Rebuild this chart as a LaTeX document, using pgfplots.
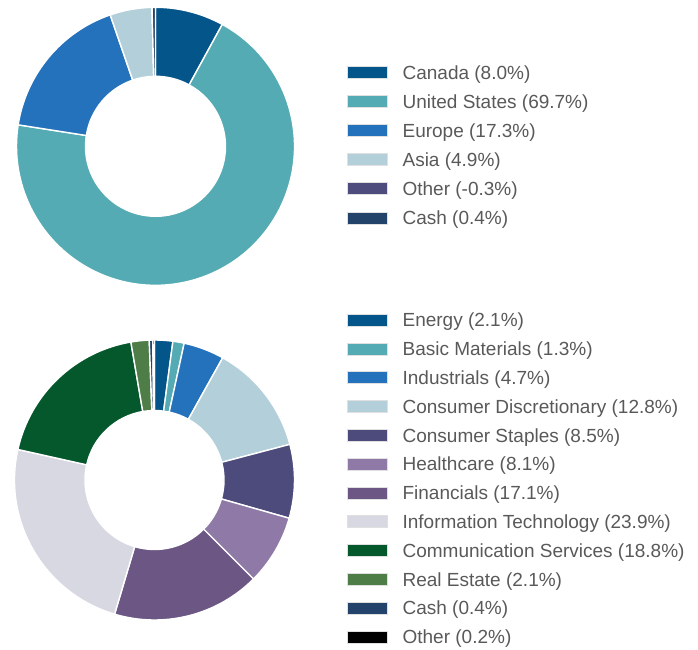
\documentclass[border=0pt]{standalone}
\usepackage{pgfplots}
\pgfplotsset{compat=1.18}
\usepackage{pgfplotstable}
\usepackage{fontspec}
\setmainfont{Liberation Sans}

\definecolor{textgrey}{HTML}{595959}
% top (region) colours
\definecolor{top0}{HTML}{04558A}
\definecolor{top1}{HTML}{54ABB3}
\definecolor{top2}{HTML}{2472BB}
\definecolor{top3}{HTML}{B3D0DA}
\definecolor{top4}{HTML}{4D4C7C}
\definecolor{top5}{HTML}{24436A}
% bottom (sector) colours
\definecolor{bot0}{HTML}{04558A}
\definecolor{bot1}{HTML}{54ABB3}
\definecolor{bot2}{HTML}{2472BB}
\definecolor{bot3}{HTML}{B3D0DA}
\definecolor{bot4}{HTML}{4C4B7B}
\definecolor{bot5}{HTML}{8F7AA7}
\definecolor{bot6}{HTML}{6B5684}
\definecolor{bot7}{HTML}{D8D8E3}
\definecolor{bot8}{HTML}{04582C}
\definecolor{bot9}{HTML}{4F7D47}
\definecolor{bot10}{HTML}{24436A}
\definecolor{bot11}{HTML}{000000}

\pgfplotstableread[col sep=comma]{
label,value
Canada,8.0
United States,69.7
Europe,17.3
Asia,4.9
Other,-0.3
Cash,0.4
}\regiontable

\pgfplotstableread[col sep=comma]{
label,value
Energy,2.1
Basic Materials,1.3
Industrials,4.7
Consumer Discretionary,12.8
Consumer Staples,8.5
Healthcare,8.1
Financials,17.1
Information Technology,23.9
Communication Services,18.8
Real Estate,2.1
Cash,0.4
Other,0.2
}\sectortable

\newcommand\preparepie[2]{%
  \pgfplotstablegetrowsof{#1}%
  \pgfmathtruncatemacro\nrows{\pgfplotsretval-1}%
  \def\tot{0}%
  \pgfplotsforeachungrouped \i in {0,...,\nrows}{%
    \pgfplotstablegetelem{\i}{value}\of{#1}%
    \pgfmathsetmacro\v{max(\pgfplotsretval,0)}%
    \pgfmathsetmacro\tot{\tot+\v}%
  }%
  \def\cum{0}%
  \pgfplotsforeachungrouped \i in {0,...,\nrows}{%
    \pgfplotstablegetelem{\i}{value}\of{#1}%
    \let\raw\pgfplotsretval
    \pgfmathsetmacro\v{max(\raw,0)}%
    \pgfmathsetmacro\sa{90-(\cum/\tot)*360}%
    \pgfmathsetmacro\cum{\cum+\v}%
    \pgfmathsetmacro\ea{90-(\cum/\tot)*360}%
    \expandafter\xdef\csname #2s\i\endcsname{\sa}%
    \expandafter\xdef\csname #2e\i\endcsname{\ea}%
    \expandafter\xdef\csname #2v\i\endcsname{\raw}%
    \pgfplotstablegetelem{\i}{label}\of{#1}%
    \expandafter\xdef\csname #2l\i\endcsname{\pgfplotsretval}%
  }%
}
\preparepie{\regiontable}{A}
\preparepie{\sectortable}{B}

\pgfplotsset{
  donut/.style={
    hide axis, clip=false, scale only axis,
    xmin=-1, xmax=1, ymin=-1, ymax=1,
    legend cell align=left,
    legend image code/.code={\draw[##1, draw=black!12, line width=0.6pt] (0pt,-6pt) rectangle (40pt,6pt);},
  },
}

\begin{document}
\begin{tikzpicture}
\begin{axis}[donut,
  width=278pt, height=278pt,
  at={(155.5pt,502.7pt)}, anchor=center,
  legend style={at={(1.18885,0.7906)}, anchor=north west, draw=none, fill=none,
    inner sep=0pt, outer sep=0pt, row sep=15.5pt, column sep=15pt,
    font=\fontsize{19}{22}\selectfont,
    nodes={inner sep=0pt, anchor=west, text height=13.6pt, text depth=0pt, text=textgrey}},
]
\pgfplotsinvokeforeach{0,...,5}{%
  \addlegendimage{fill=top#1}
  \addlegendentry{\csname Al#1\endcsname\ (\csname Av#1\endcsname\%)}
  \fill[top#1, draw=white, line width=1.4pt, line join=round]
    ([shift={(\csname As#1\endcsname:139pt)}]axis cs:0,0)
    arc[start angle=\csname As#1\endcsname, end angle=\csname Ae#1\endcsname, radius=139pt]
    -- ([shift={(\csname Ae#1\endcsname:70pt)}]axis cs:0,0)
    arc[start angle=\csname Ae#1\endcsname, end angle=\csname As#1\endcsname, radius=70pt]
    -- cycle;
}
\end{axis}

\begin{axis}[donut,
  width=280pt, height=280pt,
  at={(154.5pt,169pt)}, anchor=center,
  legend style={at={(1.1875,1.0957)}, anchor=north west, draw=none, fill=none,
    inner sep=0pt, outer sep=0pt, row sep=15.2pt, column sep=15pt,
    font=\fontsize{19}{22}\selectfont,
    nodes={inner sep=0pt, anchor=west, text height=13.6pt, text depth=0pt, text=textgrey}},
]
\pgfplotsinvokeforeach{0,...,11}{%
  \addlegendimage{fill=bot#1}
  \addlegendentry{\csname Bl#1\endcsname\ (\csname Bv#1\endcsname\%)}
  \fill[bot#1, draw=white, line width=1.4pt, line join=round]
    ([shift={(\csname Bs#1\endcsname:140pt)}]axis cs:0,0)
    arc[start angle=\csname Bs#1\endcsname, end angle=\csname Be#1\endcsname, radius=140pt]
    -- ([shift={(\csname Be#1\endcsname:69.5pt)}]axis cs:0,0)
    arc[start angle=\csname Be#1\endcsname, end angle=\csname Bs#1\endcsname, radius=69.5pt]
    -- cycle;
}
\end{axis}
\pgfresetboundingbox
\path[use as bounding box] (0,0) rectangle (698pt,649pt);
\end{tikzpicture}
\end{document}
